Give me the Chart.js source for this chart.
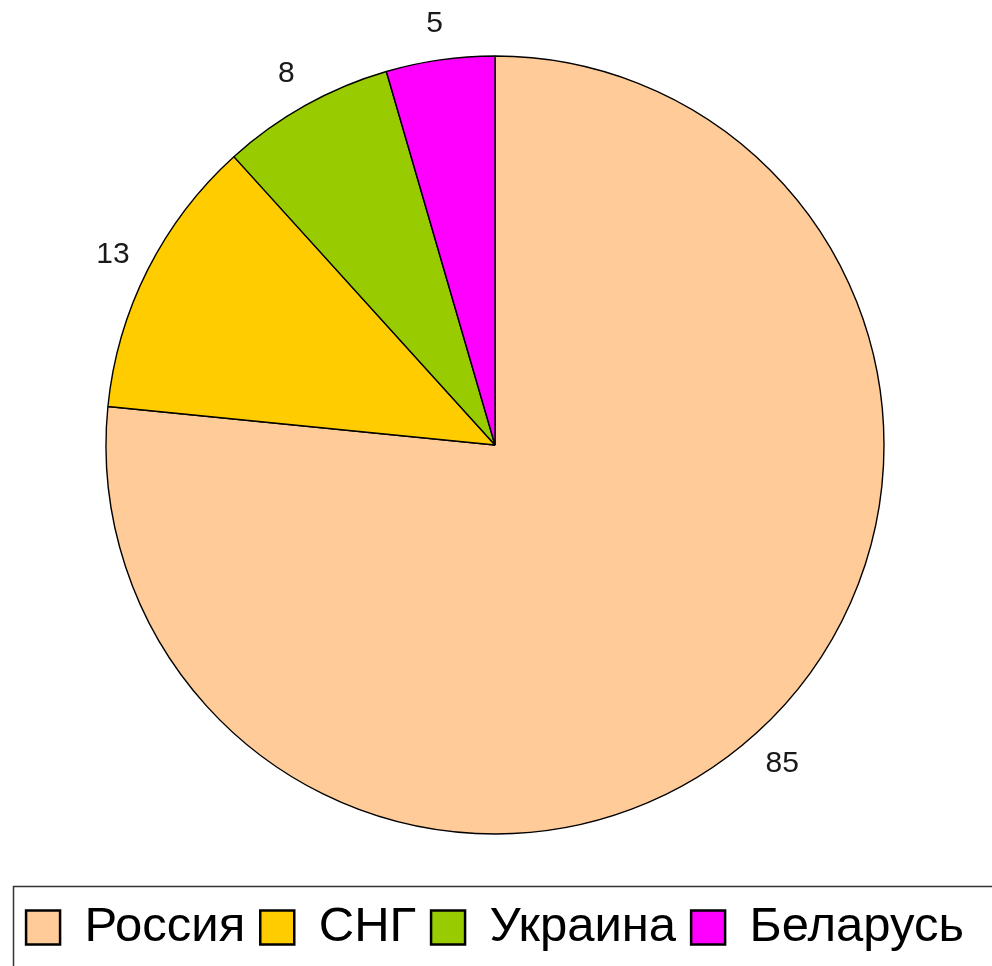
<!DOCTYPE html>
<html>
<head>
<meta charset="utf-8">
<script src="https://cdn.jsdelivr.net/npm/chart.js"></script>
<style>
  html, body { margin: 0; padding: 0; background: #fff; }
  #wrap { width: 992px; height: 966px; position: relative; overflow: hidden; }
</style>
</head>
<body>
<div id="wrap"><canvas id="c" width="992" height="966"></canvas></div>
<script>
const categories = ['Россия', 'СНГ', 'Украина', 'Беларусь'];
const values = [85, 13, 8, 5];
const sliceColors = ['#FFCC99', '#FFCC00', '#99CC00', '#FF00FF'];

const sliceLabels = {
  id: 'sliceLabels',
  afterDatasetsDraw(chart) {
    const ctx = chart.ctx;
    const meta = chart.getDatasetMeta(0);
    ctx.save();
    ctx.font = '30px "Liberation Sans", Arial, sans-serif';
    ctx.fillStyle = '#1a1a1a';
    ctx.textAlign = 'center';
    ctx.textBaseline = 'middle';
    meta.data.forEach((arc, i) => {
      const p = arc.getProps(['x', 'y', 'startAngle', 'endAngle', 'outerRadius'], true);
      const mid = (p.startAngle + p.endAngle) / 2;
      const r = p.outerRadius * 1.1;
      ctx.fillText(String(values[i]), p.x + Math.cos(mid) * r, p.y + Math.sin(mid) * r + 2);
    });
    ctx.restore();
  }
};

const legendFrame = {
  id: 'legendFrame',
  afterDraw(chart) {
    const lg = chart.legend;
    if (!lg || !lg.legendHitBoxes || !lg.legendHitBoxes.length) return;
    const ctx = chart.ctx;
    const first = lg.legendHitBoxes[0];
    ctx.save();
    ctx.strokeStyle = '#333';
    ctx.lineWidth = 1.5;
    ctx.strokeRect(Math.round(first.left) - 12.5, lg.top - 1.5, chart.width + 50, 200);
    ctx.restore();
  }
};

new Chart(document.getElementById('c'), {
  type: 'pie',
  data: {
    labels: categories,
    datasets: [{
      data: values,
      backgroundColor: sliceColors,
      borderColor: '#000',
      borderWidth: 1.4,
      radius: 389
    }]
  },
  options: {
    responsive: false,
    animation: false,
    layout: { padding: { top: 2, left: 0, right: 2, bottom: 4 } },
    plugins: {
      tooltip: { enabled: false },
      legend: {
        position: 'bottom',
        labels: {
          font: { size: 49, family: '"Liberation Sans", Arial, sans-serif' },
          color: '#000',
          boxWidth: 34,
          boxHeight: 34,
          padding: 15,
          generateLabels(chart) {
            const items = Chart.overrides.pie.plugins.legend.labels.generateLabels(chart);
            return items.map(it => Object.assign(it, { lineWidth: 2.5, strokeStyle: '#000' }));
          }
        }
      }
    }
  },
  plugins: [sliceLabels, legendFrame]
});
</script>
</body>
</html>
